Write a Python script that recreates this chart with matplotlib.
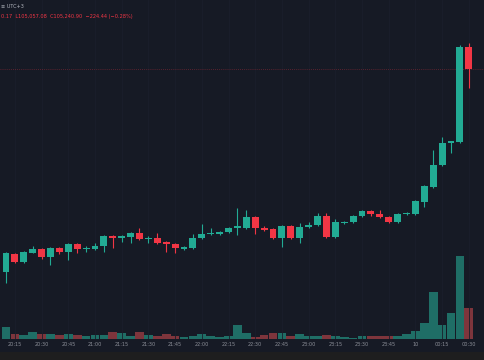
import matplotlib
matplotlib.use('Agg')
import matplotlib.pyplot as plt
from matplotlib.patches import Rectangle

# 5-minute candles, 20:10 -> 00:30
opens = [103170, 103354, 103272, 103364, 103405, 103323, 103415, 103374, 103456, 103400,
         103405, 103435, 103537, 103517, 103527, 103568, 103507, 103517, 103476, 103456,
         103410, 103415, 103517, 103558, 103558, 103578, 103624, 103619, 103731, 103619,
         103609, 103517, 103640, 103517, 103629, 103650, 103742, 103527, 103670, 103680,
         103742, 103793, 103762, 103731, 103680, 103762, 103762, 103884, 104037, 104262,
         104491, 104496, 105465]
highs = [103374, 103364, 103385, 103435, 103415, 103425, 103425, 103466, 103466, 103435,
         103466, 103548, 103548, 103548, 103578, 103619, 103537, 103568, 103486, 103466,
         103435, 103558, 103660, 103619, 103588, 103629, 103823, 103803, 103742, 103640,
         103619, 103650, 103650, 103670, 103680, 103772, 103772, 103711, 103690, 103752,
         103803, 103803, 103803, 103742, 103772, 103782, 103905, 104058, 104415, 104547,
         104507, 105486, 105506]
lows = [103058, 103262, 103262, 103364, 103303, 103241, 103354, 103293, 103364, 103374,
        103395, 103374, 103415, 103476, 103466, 103497, 103466, 103456, 103374, 103364,
        103395, 103405, 103507, 103548, 103548, 103568, 103548, 103609, 103558, 103588,
        103507, 103425, 103507, 103466, 103619, 103640, 103517, 103517, 103660, 103670,
        103731, 103742, 103721, 103670, 103670, 103752, 103752, 103833, 104027, 104252,
        104384, 104486, 105047]
closes = [103364, 103272, 103374, 103405, 103323, 103415, 103374, 103456, 103405, 103405,
          103435, 103537, 103517, 103537, 103568, 103507, 103517, 103466, 103456, 103415,
          103415, 103517, 103558, 103568, 103578, 103619, 103629, 103731, 103619, 103599,
          103517, 103640, 103517, 103629, 103650, 103742, 103527, 103680, 103680, 103742,
          103793, 103762, 103731, 103680, 103762, 103772, 103895, 104048, 104262, 104486,
          104496, 105465, 105241]
volumes = [12, 5, 4, 7, 5, 5, 4, 5, 4, 3,
           4, 4, 7, 6, 3, 7, 4, 3, 5, 3,
           2, 3, 5, 3, 2, 3, 14, 6, 2, 4,
           6, 6, 3, 5, 3, 3, 4, 3, 2, 1,
           3, 3, 3, 3, 3, 5, 8, 16, 47, 14,
           26, 83, 31]

tick_labels = ['20:15', '20:30', '20:45', '21:00', '21:15', '21:30', '21:45', '22:00',
               '22:15', '22:30', '22:45', '23:00', '23:15', '23:30', '23:45', '10',
               '00:15', '00:30']

BG = '#161a25'
UP = '#22ab94'
DOWN = '#f23645'
UP_VOL = '#1f6e66'
DOWN_VOL = '#7e353c'

fig = plt.figure(figsize=(4.85, 3.6), dpi=100, facecolor=BG)
fig.patches.append(Rectangle((0, 0), 1, 8 / 360, transform=fig.transFigure,
                             facecolor='#1e1e1f', edgecolor='none', zorder=0))

ax = fig.add_axes([0, 21 / 360, 1, 339 / 360])
ax.set_facecolor(BG)
axv = ax.twinx()

n = len(opens)
idx = list(range(n))
colors = [UP if c >= o else DOWN for o, c in zip(opens, closes)]
vcolors = [UP_VOL if c >= o else DOWN_VOL for o, c in zip(opens, closes)]

# candles
ax.vlines(idx, lows, highs, colors=colors, linewidth=0.8, zorder=3)
bottoms = [min(o, c) for o, c in zip(opens, closes)]
heights = [max(abs(c - o), 12) for o, c in zip(opens, closes)]
ax.bar(idx, heights, bottom=bottoms, width=0.78, color=colors, linewidth=0, zorder=4)

# last price line
ax.axhline(closes[-1], color=DOWN, linestyle=(0, (1, 1.5)), linewidth=0.6, alpha=0.4, zorder=2)

# volume
axv.bar(idx, volumes, width=0.98, color=vcolors, linewidth=0, zorder=1)
axv.set_ylim(0, 339)

ax.set_ylim(102487, 105945)
ax.set_xlim(-0.674, 53.82)

# faint grid
tick_pos = [1 + 3 * k for k in range(len(tick_labels))]
ax.set_xticks(tick_pos)
ax.set_xticklabels(tick_labels)
ax.grid(axis='x', color='#1a1e2b', linewidth=0.6)
ax.set_yticks([])
axv.set_yticks([])
ax.tick_params(axis='x', length=0, pad=2.5, labelsize=3.6, labelcolor='#8c8f98')
for a in (ax, axv):
    for s in a.spines.values():
        s.set_visible(False)
ax.set_zorder(axv.get_zorder() + 1)
ax.patch.set_visible(False)
axv.set_facecolor(BG)

fig.text(0.002, 0.988, '≡ UTC+3', fontsize=3.6, color='#b2b5be', va='top', ha='left')
fig.text(0.002, 0.962, '0.17  L105,057.08  C105,240.90  −224.44 (−0.28%)',
         fontsize=3.6, color=DOWN, va='top', ha='left')

fig.savefig('out.png', dpi=100, facecolor=BG)
